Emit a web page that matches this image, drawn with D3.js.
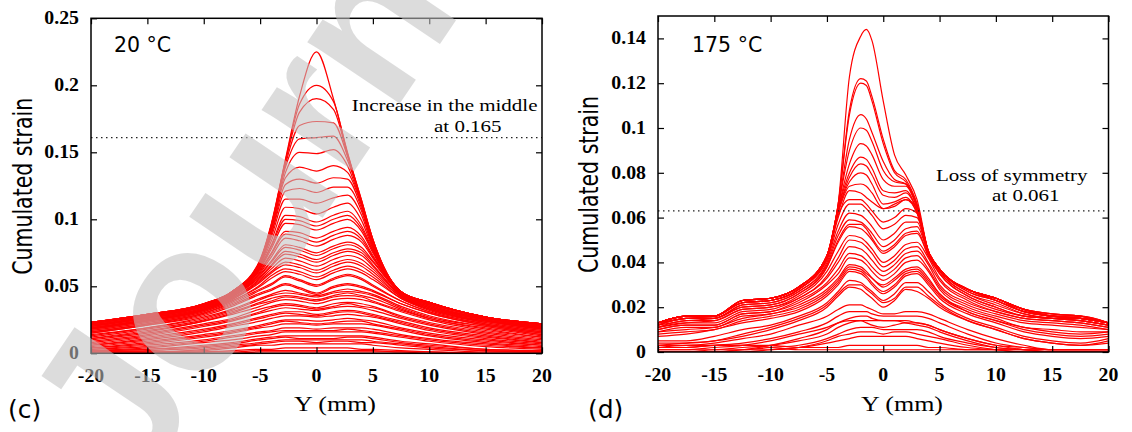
<!DOCTYPE html>
<html><head><meta charset="utf-8">
<script src="https://cdn.jsdelivr.net/npm/d3@7"></script>
<style>body{margin:0;background:#fff}svg{display:block}</style>
</head><body><svg id="chart" width="1132" height="432"></svg>
<script>
// ---------- DATA ----------
const yPositionsC = [-20,-15,-10,-7.5,-5,-4,-2.75,-1.5,0,1.5,2.75,4,5,7.5,10,15,20];
const strain20C = [
 [0,0,0,0,.001,.001,.001,.001,.001,.001,.001,.001,.001,.001,0,0,0],
 [0,0,.001,.001,.002,.002,.002,.002,.002,.002,.002,.002,.002,.001,.001,0,0],
 [0,0,.001,.002,.003,.003,.004,.004,.004,.004,.004,.003,.003,.002,.001,0,0],
 [.001,.001,.002,.004,.006,.006,.007,.007,.007,.007,.007,.007,.006,.004,.003,.001,.001],
 [.001,.001,.003,.005,.007,.008,.009,.009,.008,.009,.009,.008,.008,.006,.004,.002,.001],
 [.001,.002,.004,.006,.008,.009,.010,.010,.010,.010,.010,.010,.009,.007,.005,.002,.001],
 [.002,.003,.005,.007,.010,.011,.012,.011,.011,.011,.012,.012,.011,.008,.006,.003,.002],
 [.002,.003,.006,.008,.011,.012,.013,.013,.013,.013,.013,.013,.012,.009,.007,.003,.002],
 [.002,.004,.008,.010,.013,.014,.016,.016,.016,.016,.016,.016,.015,.012,.009,.005,.003],
 [.003,.005,.009,.012,.015,.016,.017,.017,.017,.017,.018,.017,.016,.013,.010,.006,.004],
 [.003,.006,.010,.013,.016,.017,.019,.019,.018,.019,.019,.019,.018,.014,.011,.007,.004],
 [.004,.007,.012,.015,.019,.020,.022,.022,.021,.022,.022,.022,.021,.017,.013,.008,.005],
 [.004,.008,.013,.016,.020,.022,.024,.023,.022,.023,.024,.024,.022,.018,.014,.009,.006],
 [.005,.009,.014,.017,.021,.023,.025,.025,.024,.025,.026,.025,.024,.019,.015,.010,.006],
 [.006,.010,.016,.020,.024,.026,.028,.028,.027,.028,.029,.028,.027,.022,.017,.011,.007],
 [.006,.011,.017,.021,.026,.028,.030,.029,.028,.030,.031,.030,.028,.023,.018,.012,.008],
 [.007,.012,.018,.022,.027,.029,.031,.031,.029,.031,.032,.031,.029,.024,.019,.013,.008],
 [.008,.013,.020,.024,.030,.032,.034,.033,.032,.034,.035,.034,.032,.026,.021,.014,.009],
 [.009,.014,.021,.025,.031,.034,.036,.035,.033,.035,.037,.035,.034,.027,.022,.015,.010],
 [.010,.015,.022,.026,.033,.035,.037,.036,.034,.037,.038,.037,.035,.028,.023,.016,.011],
 [.011,.016,.024,.029,.035,.038,.040,.039,.037,.040,.041,.040,.038,.031,.025,.017,.012],
 [.011,.017,.024,.030,.037,.039,.042,.041,.039,.042,.043,.042,.039,.032,.026,.018,.012],
 [.012,.018,.025,.031,.038,.041,.043,.042,.040,.043,.045,.043,.041,.033,.026,.019,.013],
 [.013,.019,.026,.032,.040,.043,.045,.044,.042,.045,.046,.045,.043,.034,.027,.020,.014],
 [.014,.019,.027,.033,.041,.044,.047,.045,.043,.046,.048,.046,.044,.035,.028,.020,.014],
 [.015,.021,.028,.035,.044,.047,.051,.048,.044,.049,.051,.049,.046,.037,.030,.021,.015],
 [.015,.021,.029,.036,.045,.048,.052,.049,.045,.050,.052,.050,.047,.037,.030,.021,.015],
 [.016,.022,.030,.037,.047,.051,.057,.054,.050,.055,.058,.055,.050,.039,.031,.022,.016],
 [.016,.022,.030,.038,.048,.052,.058,.055,.051,.056,.059,.056,.051,.039,.031,.022,.016],
 [.017,.023,.031,.039,.050,.056,.061,.059,.055,.060,.063,.060,.055,.041,.032,.023,.017],
 [.017,.023,.031,.039,.051,.058,.063,.061,.057,.062,.065,.062,.057,.041,.033,.023,.017],
 [.018,.024,.032,.040,.053,.060,.066,.064,.060,.065,.068,.065,.059,.042,.033,.024,.018],
 [.018,.024,.032,.040,.054,.061,.068,.066,.062,.067,.070,.067,.061,.042,.033,.024,.018],
 [.018,.024,.032,.041,.055,.063,.071,.069,.065,.070,.073,.070,.063,.043,.034,.024,.018],
 [.019,.025,.033,.041,.056,.065,.074,.072,.068,.073,.076,.073,.065,.043,.034,.025,.019],
 [.019,.025,.033,.042,.057,.066,.076,.074,.070,.075,.078,.075,.066,.043,.034,.025,.019],
 [.019,.025,.033,.042,.058,.068,.079,.077,.073,.078,.081,.077,.068,.044,.035,.025,.019],
 [.019,.025,.033,.042,.059,.069,.081,.079,.075,.080,.083,.079,.069,.044,.035,.025,.019],
 [.020,.026,.034,.043,.060,.072,.086,.084,.080,.085,.088,.083,.071,.044,.035,.026,.020],
 [.020,.026,.034,.043,.061,.074,.089,.087,.083,.088,.091,.085,.072,.045,.036,.026,.020],
 [.020,.026,.034,.043,.062,.075,.091,.090,.086,.091,.094,.087,.073,.045,.036,.026,.020],
 [.021,.027,.035,.044,.063,.078,.097,.096,.092,.097,.100,.091,.075,.045,.036,.026,.020],
 [.021,.027,.035,.044,.064,.080,.100,.099,.095,.100,.103,.093,.076,.045,.037,.027,.021],
 [.021,.027,.035,.044,.064,.081,.103,.102,.098,.103,.106,.095,.077,.045,.037,.027,.021],
 [.021,.027,.035,.044,.065,.084,.109,.108,.104,.109,.112,.099,.078,.046,.037,.027,.021],
 [.022,.028,.036,.045,.066,.087,.115,.115,.112,.116,.118,.103,.079,.046,.037,.027,.021],
 [.022,.028,.036,.045,.067,.089,.121,.123,.120,.124,.124,.106,.080,.046,.038,.027,.021],
 [.022,.028,.036,.045,.067,.090,.126,.130,.127,.131,.130,.108,.081,.046,.038,.027,.022],
 [.022,.028,.036,.045,.068,.092,.131,.139,.136,.140,.135,.110,.082,.046,.038,.027,.022],
 [.023,.029,.036,.046,.068,.093,.135,.150,.149,.152,.140,.111,.083,.046,.038,.027,.022],
 [.023,.029,.037,.046,.068,.094,.139,.160,.161,.162,.144,.112,.084,.046,.038,.027,.022],
 [.023,.029,.037,.046,.069,.095,.141,.170,.173,.172,.147,.113,.084,.046,.038,.027,.022],
 [.023,.029,.037,.046,.069,.096,.143,.180,.190,.182,.148,.113,.085,.046,.038,.027,.022],
 [.023,.029,.037,.046,.069,.096,.144,.186,.200,.188,.149,.114,.085,.046,.038,.027,.022],
 [.023,.029,.037,.046,.070,.097,.145,.192,.225,.190,.150,.114,.085,.046,.038,.027,.022]
];
const yPositionsD = [-20,-17.5,-15,-12.5,-10,-7.5,-5,-4,-3,-2,-1.5,-1,0,1,2,3,4,5,7.5,10,12.5,15,17.5,20];
const strain175D = [
 [.002,.002,.003,.003,.002,.001,.001,.001,.001,.001,.001,.001,.001,.001,.001,.001,.001,.001,.001,.001,.001,.001,.001,.001],
 [.002,.003,.003,.003,.003,.002,.002,.002,.003,.003,.003,.003,.003,.003,.003,.003,.002,.002,.001,.001,.001,.001,.001,.001],
 [0,0,0,0,.001,.002,.004,.005,.006,.007,.007,.007,.007,.007,.007,.006,.005,.004,.002,.001,0,0,0,0],
 [0,0,0,.001,.001,.002,.005,.007,.008,.009,.009,.009,.008,.009,.009,.008,.007,.006,.003,.001,0,0,0,0],
 [0,0,.001,.001,.002,.003,.006,.008,.010,.011,.011,.011,.010,.010,.010,.010,.009,.007,.004,.002,.001,0,0,0],
 [.001,.001,.002,.003,.005,.008,.011,.013,.014,.014,.013,.012,.011,.012,.013,.013,.012,.010,.006,.003,.002,.001,.001,.001],
 [.001,.001,.001,.002,.003,.005,.008,.011,.013,.014,.014,.014,.014,.014,.013,.012,.011,.009,.005,.002,.001,0,0,0],
 [0,0,0,.001,.003,.006,.010,.013,.015,.016,.016,.015,.014,.014,.014,.013,.012,.010,.006,.003,.001,0,0,0],
 [.002,.002,.003,.004,.006,.009,.013,.016,.018,.018,.018,.017,.016,.016,.016,.016,.015,.013,.008,.004,.002,.001,.001,.001],
 [.003,.003,.004,.006,.008,.012,.016,.019,.021,.021,.020,.019,.017,.017,.018,.018,.017,.015,.010,.006,.003,.001,.001,.001],
 [.004,.004,.005,.007,.010,.014,.020,.025,.029,.028,.026,.024,.020,.023,.028,.027,.024,.020,.014,.010,.006,.004,.003,.005],
 [.003,.004,.005,.008,.011,.015,.021,.026,.030,.030,.028,.026,.022,.024,.029,.029,.025,.021,.014,.010,.006,.004,.003,.004],
 [.005,.005,.007,.010,.012,.016,.022,.027,.032,.031,.029,.027,.023,.026,.031,.031,.027,.022,.015,.011,.007,.005,.004,.006],
 [.007,.008,.010,.013,.015,.018,.025,.030,.036,.035,.033,.030,.026,.029,.034,.035,.030,.024,.017,.013,.009,.007,.006,.007],
 [.008,.009,.010,.014,.016,.019,.026,.031,.037,.036,.034,.031,.027,.030,.035,.036,.031,.025,.018,.014,.010,.008,.007,.008],
 [.009,.010,.011,.015,.017,.020,.027,.032,.038,.037,.035,.033,.029,.032,.036,.037,.032,.026,.018,.014,.011,.009,.008,.009],
 [.009,.011,.011,.016,.017,.021,.028,.033,.039,.038,.036,.033,.030,.033,.037,.038,.033,.026,.019,.015,.011,.010,.009,.009],
 [.010,.012,.012,.017,.018,.022,.030,.035,.042,.041,.039,.036,.032,.035,.040,.041,.036,.028,.020,.016,.013,.012,.011,.010],
 [.010,.012,.012,.017,.018,.023,.031,.037,.044,.043,.041,.038,.034,.037,.042,.043,.037,.029,.021,.017,.014,.013,.012,.010],
 [.011,.013,.013,.018,.019,.024,.033,.040,.047,.046,.044,.041,.036,.039,.044,.045,.039,.030,.022,.018,.015,.014,.013,.011],
 [.011,.013,.014,.019,.020,.024,.034,.042,.050,.049,.047,.044,.038,.041,.046,.047,.040,.032,.023,.018,.015,.014,.013,.011],
 [.011,.014,.014,.019,.020,.025,.036,.045,.052,.051,.049,.046,.040,.043,.048,.049,.042,.033,.024,.019,.016,.015,.014,.012],
 [.012,.014,.015,.020,.021,.026,.038,.049,.056,.055,.053,.050,.044,.047,.052,.053,.043,.035,.025,.020,.016,.015,.014,.012],
 [.012,.015,.015,.020,.021,.026,.038,.050,.057,.057,.055,.051,.045,.048,.053,.054,.043,.035,.025,.020,.016,.015,.014,.012],
 [.012,.015,.015,.021,.022,.027,.039,.052,.059,.058,.056,.053,.047,.050,.055,.056,.044,.036,.026,.021,.017,.015,.014,.012],
 [.012,.015,.015,.021,.022,.027,.040,.054,.062,.061,.059,.056,.050,.053,.058,.058,.044,.036,.026,.022,.017,.015,.015,.013],
 [.013,.015,.016,.022,.023,.028,.041,.057,.066,.066,.064,.061,.055,.057,.061,.060,.045,.037,.027,.023,.018,.016,.015,.013],
 [.013,.016,.016,.022,.023,.028,.042,.061,.068,.068,.066,.063,.058,.060,.064,.062,.045,.037,.027,.023,.018,.016,.015,.013],
 [.013,.015,.016,.022,.023,.028,.042,.060,.072,.071,.069,.067,.064,.065,.068,.064,.045,.037,.028,.023,.018,.016,.015,.013],
 [.013,.016,.016,.022,.023,.028,.042,.062,.074,.075,.074,.071,.064,.066,.068,.062,.045,.037,.028,.023,.018,.016,.015,.013],
 [.013,.016,.016,.022,.023,.028,.042,.063,.076,.080,.079,.075,.066,.067,.069,.062,.045,.037,.028,.024,.018,.016,.015,.013],
 [.013,.016,.016,.023,.024,.029,.043,.063,.078,.084,.083,.079,.070,.069,.071,.063,.045,.037,.028,.024,.019,.016,.015,.013],
 [.013,.016,.016,.023,.024,.029,.043,.064,.080,.087,.086,.082,.072,.071,.072,.063,.045,.037,.028,.024,.019,.016,.015,.013],
 [.013,.016,.016,.023,.024,.029,.043,.064,.084,.093,.092,.088,.077,.074,.074,.064,.045,.037,.028,.024,.019,.016,.015,.013],
 [.013,.016,.016,.023,.024,.029,.043,.065,.090,.100,.099,.094,.081,.076,.075,.065,.045,.037,.028,.024,.019,.016,.016,.013],
 [.013,.016,.016,.023,.024,.029,.043,.065,.095,.106,.104,.098,.085,.077,.075,.065,.045,.037,.028,.024,.019,.016,.016,.013],
 [.013,.016,.016,.023,.024,.029,.043,.066,.106,.120,.119,.112,.093,.080,.076,.066,.045,.037,.028,.024,.019,.017,.016,.013],
 [.013,.016,.016,.023,.024,.029,.043,.066,.108,.122,.121,.114,.095,.081,.077,.066,.045,.037,.028,.024,.019,.017,.016,.013],
 [.013,.016,.016,.023,.024,.029,.043,.066,.123,.141,.144,.139,.112,.088,.079,.068,.045,.037,.028,.024,.019,.017,.016,.013]
];
const xTickValues = [-20,-15,-10,-5,0,5,10,15,20];
const xTickLabels = ["-20","-15","-10","-5","0","5","10","15","20"];
const yTickValuesC = [0,0.05,0.1,0.15,0.2,0.25];
const yTickLabelsC = ["0","0.05","0.1","0.15","0.2","0.25"];
const yTickValuesD = [0,0.02,0.04,0.06,0.08,0.1,0.12,0.14];
const yTickLabelsD = ["0","0.02","0.04","0.06","0.08","0.1","0.12","0.14"];
const thresholdC = 0.161, thresholdD = 0.063;
const annotationC = ["Increase in the middle","at 0.165"];
const annotationD = ["Loss of symmetry","at 0.061"];

// ---------- DRAW ----------
const svg = d3.select("#chart");
const SERIF = "'Liberation Serif','Times New Roman',serif";
const SANS = "'DejaVu Sans',sans-serif";

function txt(g, x, y, s, o) {
  return g.append("text")
    .attr("transform", `translate(${x},${y}) scale(${o.sx||1},1)` + (o.rot ? ` rotate(${o.rot})` : ""))
    .attr("text-anchor", o.anchor || "start")
    .style("font-family", o.family).style("font-size", o.size + "px")
    .style("font-weight", o.weight || "normal").attr("fill", "#000")
    .text(s);
}

const panels = [
  {id:"c", left:91, right:542, top:18.3, bottom:353.3, ymax:0.25, pos:yPositionsC, series:strain20C,
   yt:yTickValuesC, ytl:yTickLabelsC, thr:thresholdC, temp:"20 °C", tempX:114, ann:annotationC,
   annX:[537.5,434], annY:[111,131.5], annAnchor:["end","start"], ylabX:32, tag:"(c)", tagX:8},
  {id:"d", left:658, right:1108.5, top:16, bottom:352, ymax:0.15, pos:yPositionsD, series:strain175D,
   yt:yTickValuesD, ytl:yTickLabelsD, thr:thresholdD, temp:"175 °C", tempX:692, ann:annotationD,
   annX:[936,992], annY:[181,201], annAnchor:["start","start"], ylabX:598, tag:"(d)", tagX:588}
];

panels.forEach(p => {
  const x = d3.scaleLinear().domain([-20,20]).range([p.left,p.right]);
  const y = d3.scaleLinear().domain([0,p.ymax]).range([p.bottom,p.top]);
  const g = svg.append("g");
  g.append("clipPath").attr("id","clip"+p.id).append("rect")
    .attr("x",p.left).attr("y",p.top).attr("width",p.right-p.left).attr("height",p.bottom-p.top);
  const line = d3.line().x((d,i)=>x(p.pos[i])).y(d=>y(d)).curve(d3.curveMonotoneX);
  g.append("g").attr("clip-path",`url(#clip${p.id})`)
    .selectAll("path").data(p.series).join("path")
    .attr("d", line).attr("fill","none").attr("stroke","#ff0000").attr("stroke-width",1.2);
  g.append("line").attr("x1",p.left).attr("x2",p.right).attr("y1",y(p.thr)).attr("y2",y(p.thr))
    .attr("stroke","#222").attr("stroke-width",1.2).attr("stroke-dasharray","1.5,3.5");
  const ax = [
    [d3.axisBottom(x).tickValues(xTickValues), `translate(0,${p.bottom})`],
    [d3.axisTop(x).tickValues(xTickValues), `translate(0,${p.top})`],
    [d3.axisLeft(y).tickValues(p.yt), `translate(${p.left},0)`],
    [d3.axisRight(y).tickValues(p.yt), `translate(${p.right},0)`]
  ];
  ax.forEach(([a,t]) => {
    g.append("g").attr("transform",t).call(a.tickSize(-6).tickFormat(""))
      .call(s=>s.select(".domain").remove())
      .call(s=>s.selectAll("line").attr("stroke","#000").attr("stroke-width",1.2));
  });
  g.append("rect").attr("x",p.left).attr("y",p.top).attr("width",p.right-p.left).attr("height",p.bottom-p.top)
    .attr("fill","none").attr("stroke","#000").attr("stroke-width",1.5);
  xTickValues.forEach((v,i)=> txt(g, x(v), p.bottom+28.5, xTickLabels[i], {family:SERIF,size:18,weight:"bold",anchor:"middle",sx:1.1}));
  p.yt.forEach((v,i)=> txt(g, p.left-12, y(v)+6, p.ytl[i], {family:SERIF,size:18,weight:"bold",anchor:"end",sx:1.1}));
  txt(g, p.left+244, 411, "Y (mm)", {family:SERIF,size:20,anchor:"middle",sx:1.3});
  txt(g, p.ylabX, (p.top+p.bottom)/2+0.5, "Cumulated strain", {family:SANS,size:20.5,anchor:"middle",sx:1.3,rot:-90});
  txt(g, p.tempX, 52, p.temp, {family:SANS,size:20.5});
  p.ann.forEach((s,i)=> txt(g, p.annX[i], p.annY[i], s, {family:SERIF,size:17.5,anchor:p.annAnchor[i],sx:1.2}));
  txt(g, p.tagX, 418, p.tag, {family:SANS,size:25});
});

// watermark
svg.append("text").attr("transform","translate(137,493) rotate(-56)")
  .style("font-family","'Liberation Sans',Arial,sans-serif").style("font-weight","bold").style("font-size","210px")
  .attr("fill","#c3c3c3").attr("opacity",0.57).text("Journal");
</script></body></html>
